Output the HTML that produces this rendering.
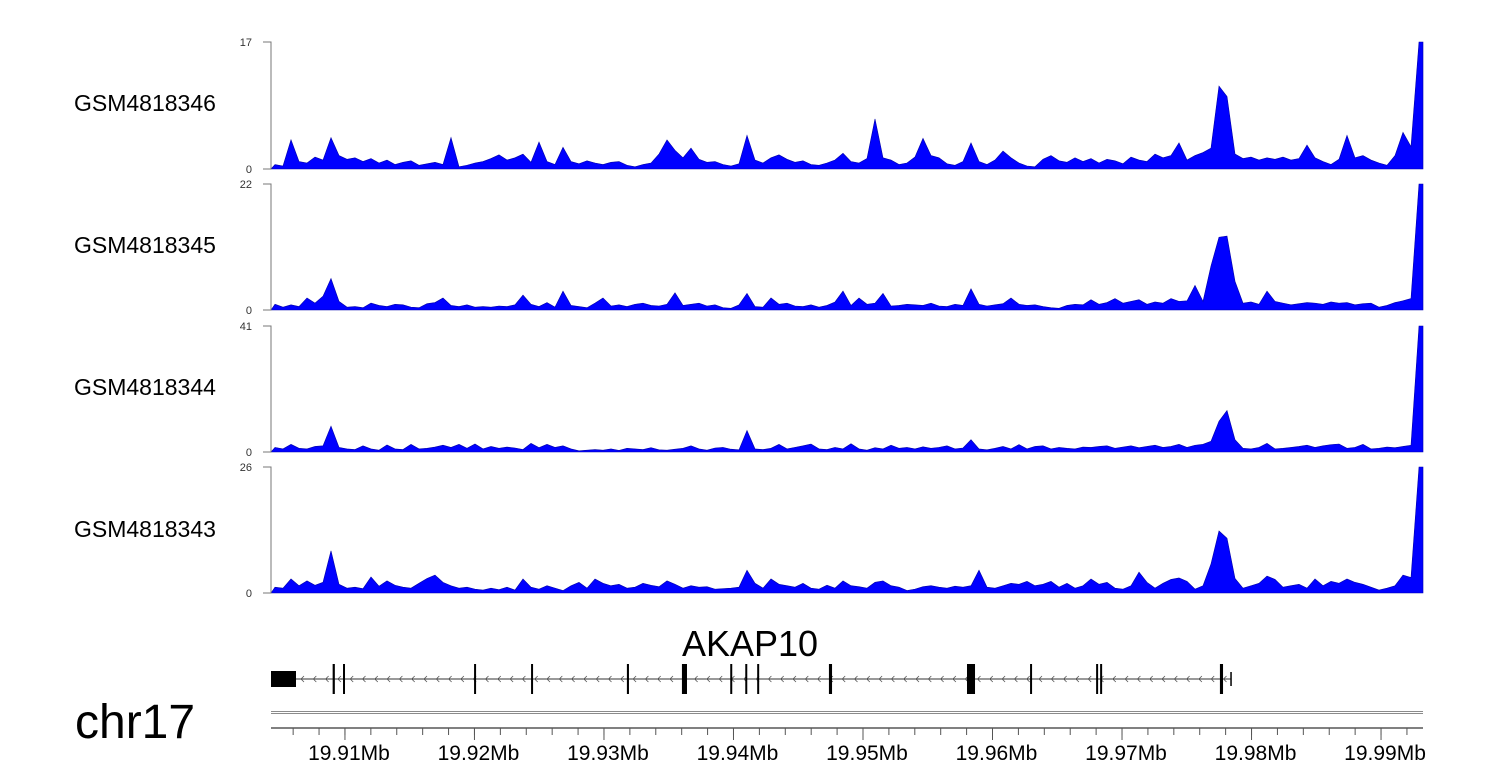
<!DOCTYPE html>
<html><head><meta charset="utf-8"><style>
body{margin:0;background:#fff;}
svg{display:block;font-family:"Liberation Sans",Arial,sans-serif;}
</style></head><body>
<svg id="chart" width="1500" height="780" viewBox="0 0 1500 780"></svg>
<script>
const regionStart = 19.90429, regionEnd = 19.99324;
const trackNames = ["GSM4818346","GSM4818345","GSM4818344","GSM4818343"];
const trackMax = [17, 22, 41, 26];
const track1 = [0.6,0.4,3.9,1.0,0.8,1.6,1.2,4.2,1.8,1.3,1.5,1.0,1.4,0.8,1.2,0.6,0.9,1.1,0.5,0.7,0.9,0.6,4.2,0.3,0.5,0.8,1.0,1.4,1.9,1.2,1.5,2.0,0.9,3.6,1.0,0.6,2.9,1.0,0.7,1.1,0.8,0.6,0.9,1.0,0.5,0.3,0.6,0.8,2.0,3.9,2.5,1.5,2.8,1.3,0.9,1.0,0.6,0.4,0.7,4.5,1.2,0.8,1.5,1.9,1.3,0.9,1.1,0.6,0.5,0.8,1.2,2.1,1.0,0.8,1.4,6.7,1.5,1.2,0.6,0.8,1.6,4.1,1.8,1.5,0.7,0.5,1.0,3.5,1.0,0.6,1.2,2.4,1.5,0.8,0.4,0.3,1.3,1.8,1.1,0.9,1.5,1.0,1.4,0.8,1.3,1.1,0.7,1.6,1.2,1.0,2.0,1.5,1.8,3.5,1.2,1.8,2.2,2.8,11.1,9.7,2.0,1.4,1.6,1.2,1.5,1.3,1.6,1.2,1.4,3.2,1.5,1.0,0.6,1.3,4.5,1.5,1.8,1.2,0.8,0.5,1.8,4.9,3.0,17];
const track2 = [1.0,0.5,0.9,0.6,2.1,1.2,2.4,5.5,1.5,0.5,0.6,0.4,1.2,0.8,0.6,1.0,0.9,0.5,0.4,1.1,1.3,2.1,0.8,0.6,0.9,0.5,0.6,0.5,0.7,0.6,0.9,2.6,1.0,0.6,1.3,0.5,3.3,0.8,0.6,0.4,1.2,2.1,0.7,0.9,0.6,1.0,1.2,0.8,0.7,1.0,3.0,0.8,1.0,1.2,0.7,0.9,0.4,0.3,0.9,2.9,0.6,0.5,2.1,1.0,1.2,0.7,0.6,0.9,0.5,0.8,1.4,3.3,0.8,2.1,1.0,1.2,2.9,0.7,0.8,1.0,0.9,0.8,1.2,0.7,0.6,1.0,0.8,3.7,1.0,0.7,0.9,1.1,2.1,1.0,0.8,0.9,0.6,0.4,0.3,0.8,1.0,0.9,1.8,1.0,1.3,2.0,1.2,1.5,1.8,1.0,1.4,1.2,2.0,1.5,1.6,4.3,1.5,7.7,12.7,12.9,5.0,1.2,1.4,1.0,3.3,1.5,1.2,0.9,1.1,1.3,1.2,1.0,1.4,1.2,1.3,0.9,1.1,1.2,0.5,0.8,1.3,1.6,2.0,22];
const track3 = [1.5,1.0,2.5,1.2,1.0,1.8,2.0,8.4,1.5,1.0,0.8,2.0,1.0,0.6,2.3,1.0,0.8,2.5,1.0,1.2,1.6,2.2,1.5,2.5,1.2,2.6,1.0,1.8,1.2,1.6,1.3,0.8,2.8,1.4,2.5,1.5,2.0,1.0,0.4,0.6,0.8,0.6,1.0,0.5,1.2,1.0,0.8,1.4,0.7,0.6,0.9,1.2,2.0,1.0,0.6,1.3,1.5,0.9,0.7,7.0,1.0,0.8,1.2,2.5,1.0,1.5,2.0,2.6,1.0,0.8,1.5,1.0,2.7,1.0,0.6,1.4,1.0,2.2,1.2,1.5,1.0,1.7,1.2,1.5,2.0,1.0,1.3,4.0,1.0,0.7,1.2,1.8,1.0,2.4,1.0,1.8,2.0,1.0,1.5,1.2,1.0,1.6,1.5,1.8,2.0,1.2,1.6,2.0,1.4,1.8,2.2,1.5,1.8,2.5,1.5,2.2,2.5,3.5,10.0,13.5,4.0,1.2,1.0,1.5,2.8,1.0,1.2,1.5,1.8,2.2,1.5,2.0,2.4,2.6,1.2,1.5,2.5,1.0,1.2,1.6,1.4,1.8,2.2,41];
const track4 = [1.2,1.0,2.9,1.5,2.5,1.6,2.2,8.7,1.8,1.0,1.2,0.9,3.3,1.4,2.5,1.6,1.2,1.0,2.0,3.0,3.7,2.2,1.5,1.0,1.2,0.8,0.6,1.0,0.7,1.2,0.6,2.9,1.2,0.8,1.5,1.0,0.5,1.5,2.2,1.0,2.9,2.0,1.5,1.8,1.0,1.2,2.0,1.6,1.3,2.5,1.8,1.0,1.5,1.2,1.3,0.8,0.9,1.0,1.2,4.7,2.0,1.0,2.9,1.8,1.5,1.2,2.0,1.0,0.8,1.6,1.0,2.5,1.5,1.3,1.0,2.2,2.5,1.5,1.2,0.5,0.8,1.3,1.5,1.2,1.0,1.4,1.2,1.5,4.7,1.2,1.0,1.5,2.0,1.8,2.4,1.5,1.8,2.4,1.2,2.0,1.0,1.5,2.9,1.8,2.2,1.0,0.8,1.5,4.3,2.2,1.0,2.0,2.8,3.1,2.4,0.8,1.5,6.0,12.8,11.3,3.0,1.0,1.5,2.0,3.5,2.8,1.2,1.5,1.8,1.0,2.9,1.5,2.4,2.0,2.9,2.2,1.8,1.2,0.6,1.0,1.5,3.7,3.2,26];
const tracks = [track1, track2, track3, track4];
const exonStarts = [19.90429,19.90905,19.90985,19.91997,19.92437,19.93177,19.93602,19.93975,19.94091,19.94183,19.94737,19.95803,19.96290,19.96800,19.96831,19.97756];
const exonEnds   = [19.90622,19.90922,19.91000,19.92012,19.92452,19.93193,19.93641,19.93990,19.94106,19.94198,19.94761,19.95865,19.96305,19.96815,19.96846,19.97780];
const tickLabels = ["19.91Mb","19.92Mb","19.93Mb","19.94Mb","19.95Mb","19.96Mb","19.97Mb","19.98Mb","19.99Mb"];
const tickValues = [19.91,19.92,19.93,19.94,19.95,19.96,19.97,19.98,19.99];

const NS = "http://www.w3.org/2000/svg";
const svg = document.getElementById("chart");
const X0 = 271, X1 = 1423;
function xPos(mb){ return X0 + (mb - regionStart) / (regionEnd - regionStart) * (X1 - X0); }
function mk(tag, attrs, parent){ const e = document.createElementNS(NS, tag); for (const k in attrs) e.setAttribute(k, attrs[k]); (parent||svg).appendChild(e); return e; }

const trackTop = [42, 184, 326, 467];
const trackBottom = [169, 310, 452, 593];
const labelY = [111, 253, 395, 537];

tracks.forEach((vals, t) => {
  const g = mk("g", {});
  
  
  const top = trackTop[t], bot = trackBottom[t], max = trackMax[t];
  const yS = v => bot - v / max * (bot - top);
  const n = vals.length, bw = (X1 - X0) / n;
  let d = "M" + X0 + "," + bot;
  vals.forEach((v, i) => { d += " L" + (X0 + (i + 0.5) * bw).toFixed(2) + "," + yS(v).toFixed(2); });
  d += " L" + X1 + "," + yS(vals[n-1]).toFixed(2) + " L" + X1 + "," + bot + " Z";
  const area = mk("path", {d: d, fill: "#0000ff", stroke: "#0000aa", "stroke-width": "0.6"}, g);
  
  
  const ax = mk("path", {d: "M263," + top + " H271 V" + bot + " H263", fill: "none", stroke: "#777", "stroke-width": "1"}, g);
  
  
  const tmax = mk("text", {x: 252, y: top + 4, "font-size": "11", "text-anchor": "end", fill: "#333"}, g);
  tmax.textContent = String(max);
  
  
  const tmin = mk("text", {x: 252, y: bot + 4, "font-size": "11", "text-anchor": "end", fill: "#333"}, g);
  tmin.textContent = "0";
  
  
  const name = mk("text", {x: 74, y: labelY[t], "font-size": "23", fill: "#000"}, g);
  name.textContent = trackNames[t];
  
  
});

const gg = mk("g", {});


const gStart = xPos(exonStarts[0]), gEnd = xPos(exonEnds[exonEnds.length-1]) + 8;
const intron = mk("line", {x1: gStart, x2: gEnd, y1: 679, y2: 679, stroke: "#333", "stroke-width": "1"}, gg);


let ad = "";
for (let x = gStart + 30; x < gEnd - 4; x += 12.3) ad += "M" + (x+3).toFixed(1) + ",676 L" + x.toFixed(1) + ",679 L" + (x+3).toFixed(1) + ",682 ";
const arrows = mk("path", {d: ad, fill: "none", stroke: "#555", "stroke-width": "0.8"}, gg);


exonStarts.forEach((s, i) => {
  const x1 = xPos(s), x2 = Math.max(xPos(exonEnds[i]), x1 + 2);
  const first = i === 0;
  const r = mk("rect", {x: x1, y: first ? 671 : 664, width: x2 - x1, height: first ? 16 : 30, fill: "#000"}, gg);
  
  
});
const endTick = mk("line", {x1: gEnd, x2: gEnd, y1: 672, y2: 686, stroke: "#000", "stroke-width": "1.5"}, gg);


const gname = mk("text", {x: 750, y: 656, "font-size": "36", "text-anchor": "middle", fill: "#000"}, gg);
gname.textContent = "AKAP10";



const sep = mk("path", {d: "M271,711.5 H1423 M271,713.5 H1423", stroke: "#666", "stroke-width": "0.7", fill: "none"});


const chr = mk("text", {x: 75, y: 738, "font-size": "48", fill: "#000"});
chr.textContent = "chr17";


const xg = mk("g", {});


mk("line", {x1: 271, x2: 1423, y1: 728, y2: 728, stroke: "#000", "stroke-width": "1"}, xg);
for (let m = 19.906; m < regionEnd; m += 0.002) {
  const x = xPos(m);
  mk("line", {x1: x, x2: x, y1: 728, y2: 735, stroke: "#555", "stroke-width": "1"}, xg);
}
tickValues.forEach((v, i) => {
  const x = xPos(v);
  mk("line", {x1: x, x2: x, y1: 728, y2: 740, stroke: "#555", "stroke-width": "1"}, xg);
  const t = mk("text", {x: x + 4, y: 760, "font-size": "21", "text-anchor": "middle", fill: "#000"}, xg);
  t.textContent = tickLabels[i];
  
  
});
</script>
</body></html>
